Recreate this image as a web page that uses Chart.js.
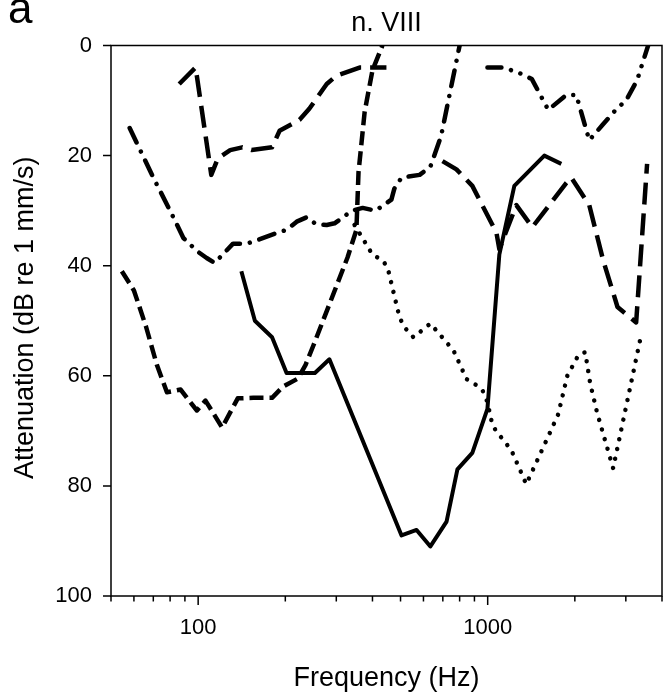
<!DOCTYPE html>
<html>
<head>
<meta charset="utf-8">
<title>n. VIII</title>
<script src="https://cdn.jsdelivr.net/npm/chart.js@4.4.1/dist/chart.umd.min.js"></script>
<style>
  body{margin:0;background:#fff;}
  #wrap{position:relative;width:664px;height:693px;}
</style>
</head>
<body>
<div id="wrap"><canvas id="chart" width="664" height="693"></canvas></div>
<script>
// --- text ---
const panelLetter = "a";
const chartTitle = "n. VIII";
const xTitle = "Frequency (Hz)";
const yTitle = "Attenuation (dB re 1 mm/s)";

// --- axes ---
const xTickVals = [50,60,70,80,90,100,200,300,400,500,600,700,800,900,1000,2000,3000,4000];
const xLabelVals = [100,1000];
const yTickVals = [0,20,40,60,80,100];

// --- curves (Hz / dB) ---
// solid
const solidFreq = [141,157,180,202,253,284,504,568,634,721,786,885,998,1097,1236,1569,1796];
const solidDb   = [41,50,53,59.5,59.5,57,89,88,91,86.5,77,74,66,38,25.5,20,21.5];
// short dashes
const dashFreq = [54.5,60,66,72,78,87,93,99,106,121,137,155,180,196,221,235,250,284,328,352,358,376,400,433];
const dashDb   = [41,44.5,51,58,63,62.5,64.5,66.3,64.5,69.4,64.1,64,64,62,60.5,58,54.5,47,38.5,33.5,23,12,4.5,0];
// long dashes, low band
const longFreq = [86,98,111,117,129,142,153,180,191,224,242,278,300,361,447];
const longDb   = [7,4,23.5,20.5,19,18.5,19,18.5,15.5,13.5,11.5,7,5.5,4,4];
// long dashes, high band
const long2Freq = [698,780,885,1072,1097,1256,1426,1867,1944,2243,2505,2808,3257,3553];
const long2Db   = [21,22.5,25.5,34,37,29,33,25,24,29,39,47.5,50.3,21.5];
// dash-dot
const dashDotFreq = [58,70,80,89,100,107,114,132,147,159,188,202,219,237,256,278,296,340,370,410,465,476,504,582,634,690,800];
const dashDotDb   = [15,24,30,35,37.5,38.6,39.5,36,36,35.4,34,33.5,32,31.2,32.5,32.6,32.3,30,29.5,30,28,26,24,23.5,22,16.5,0];
// dash-dot-dot
const dashDot2Freq = [998,1142,1207,1286,1421,1619,1867,2023,2243,2486,2800,3006,3282,3582];
const dashDot2Db   = [4,4,4.5,5,6.1,11.7,9,9,17.2,14.5,11.4,10,6.3,0];
// dotted
const dotFreq = [347,400,433,451,496,516,554,634,762,845,914,959,998,1030,1064,1134,1207,1359,1632,1752,1884,2055,2172,2260,2390,2712,3364];
const dotDb   = [32.6,38,39,40.3,49.4,51.2,53,50.5,55.4,60.6,61.7,62.6,64.8,68.1,69.9,71.7,73.5,79.7,70.6,67,60,56.3,55.7,61.4,66.8,76.8,53.4];

const FONT = "'Liberation Sans', Arial, sans-serif";

function pts(f, d){ return f.map((v,i)=>({x:v, y:d[i]})); }

function curve(f, d, width, dash, cap){
  return {
    data: pts(f, d),
    borderColor: '#000',
    borderWidth: width,
    borderDash: dash,
    borderCapStyle: cap || 'butt',
    borderJoinStyle: 'round',
    pointRadius: 0,
    fill: false,
    tension: 0
  };
}

// frame, tick marks and all titles
const frameAndLabels = {
  id: 'frameAndLabels',
  afterDraw(chart){
    const {ctx, chartArea:a, scales:{x, y}} = chart;
    ctx.save();
    ctx.strokeStyle = '#000';
    ctx.lineWidth = 1.5;
    ctx.strokeRect(a.left, a.top, a.right - a.left, a.bottom - a.top);
    ctx.beginPath();
    xTickVals.forEach(v=>{
      const px = x.getPixelForValue(v);
      const len = xLabelVals.includes(v) ? 9 : 5.5;
      ctx.moveTo(px, a.bottom); ctx.lineTo(px, a.bottom + len);
    });
    yTickVals.forEach(v=>{
      const py = y.getPixelForValue(v);
      ctx.moveTo(a.left, py); ctx.lineTo(a.left - 8, py);
    });
    ctx.stroke();

    ctx.fillStyle = '#000';
    ctx.textAlign = 'center';
    ctx.textBaseline = 'alphabetic';
    ctx.font = '27px ' + FONT;
    const cx = (a.left + a.right) / 2;
    ctx.fillText(chartTitle, cx, 31);
    ctx.fillText(xTitle, cx, 686);
    ctx.save();
    ctx.translate(33, (a.top + a.bottom) / 2 - 3);
    ctx.rotate(-Math.PI / 2);
    ctx.fillText(yTitle, 0, 0);
    ctx.restore();

    ctx.textAlign = 'left';
    ctx.font = '44px ' + FONT;
    ctx.fillText(panelLetter, 8, 23);
    ctx.restore();
  }
};

new Chart(document.getElementById('chart').getContext('2d'), {
  type: 'line',
  data: {
    datasets: [
      curve(solidFreq, solidDb, 4, []),
      curve(dashFreq, dashDb, 4.5, [14, 6]),
      curve(longFreq, longDb, 4.5, [22, 9]),
      curve(long2Freq, long2Db, 4.5, [22, 9]),
      curve(dashDotFreq, dashDotDb, 4.5, [16, 10, 0.01, 10], 'round'),
      curve(dashDot2Freq, dashDot2Db, 4.5, [14, 10, 0.01, 10, 0.01, 10], 'round'),
      curve(dotFreq, dotDb, 4.5, [0.01, 10], 'round')
    ]
  },
  options: {
    responsive: false,
    animation: false,
    layout: {padding: {top: 45.5, right: 2, left: 0, bottom: 0}},
    plugins: {legend: {display: false}, tooltip: {enabled: false}, title: {display: false}},
    scales: {
      x: {
        type: 'logarithmic', min: 50, max: 4000,
        afterBuildTicks: s => { s.ticks = xTickVals.map(v => ({value: v})); },
        afterFit: s => { s.height = 97; },
        // tick marks are drawn by the plugin; tickLength only offsets the labels
        grid: {display: false, drawTicks: true, tickLength: 19},
        border: {display: false},
        ticks: {
          autoSkip: false, maxRotation: 0, minRotation: 0, padding: 0, color: '#000',
          font: {family: FONT, size: 22},
          callback: v => xLabelVals.includes(v) ? String(v) : ''
        }
      },
      y: {
        type: 'linear', reverse: true, min: 0, max: 100,
        afterBuildTicks: s => { s.ticks = yTickVals.map(v => ({value: v})); },
        afterFit: s => { s.width = 111; },
        grid: {display: false, drawTicks: false},
        border: {display: false},
        ticks: {padding: 19, color: '#000', font: {family: FONT, size: 22}}
      }
    }
  },
  plugins: [frameAndLabels]
});
</script>
</body>
</html>
